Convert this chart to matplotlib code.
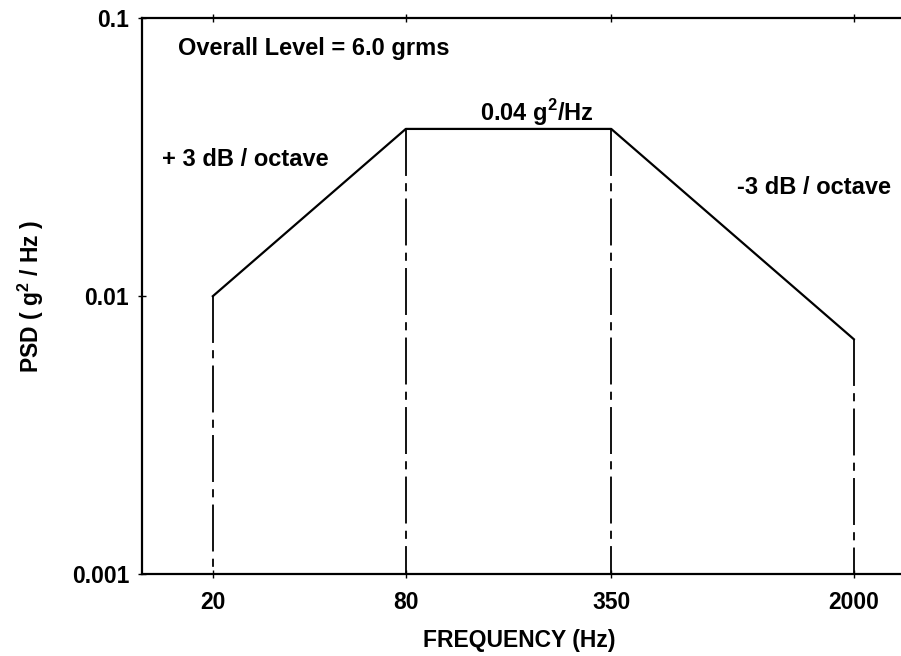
import matplotlib
matplotlib.use('Agg')
import matplotlib.pyplot as plt
from matplotlib.ticker import FixedLocator, FixedFormatter, NullLocator

plt.rcParams['font.family'] = 'Liberation Sans'
plt.rcParams['font.weight'] = 'bold'
plt.rcParams['mathtext.fontset'] = 'custom'
plt.rcParams['mathtext.rm'] = 'Liberation Sans:bold'
plt.rcParams['mathtext.bf'] = 'Liberation Sans:bold'

# breakpoints of the PSD profile
freq = [20, 80, 350, 2000]
psd = [0.01, 0.04, 0.04, 0.007]

x_ticks = [20, 80, 350, 2000]
x_labels = ['20', '80', '350', '2000']
y_ticks = [0.001, 0.01, 0.1]
y_labels = ['0.001', '0.01', '0.1']

fs = 16.5

fig = plt.figure(figsize=(9.01, 6.56), dpi=100)
# right side of the box runs off the picture
ax = fig.add_axes([0.1573, 0.125, 0.853, 0.847])
ax.set_xscale('log')
ax.set_yscale('log')
ax.set_xlim(12, 3000)
ax.set_ylim(0.001, 0.1)

ax.plot(freq, psd, color='black', lw=1.6)
for f, p in zip(freq, psd):
    ax.plot([f, f], [p, 0.001], color='black', lw=1.3,
            dashes=(26, 4, 4.5, 4))

ax.xaxis.set_major_locator(FixedLocator(x_ticks))
ax.xaxis.set_major_formatter(FixedFormatter(x_labels))
ax.xaxis.set_minor_locator(NullLocator())
ax.yaxis.set_major_locator(FixedLocator(y_ticks))
ax.yaxis.set_major_formatter(FixedFormatter(y_labels))
ax.yaxis.set_minor_locator(NullLocator())
ax.tick_params(axis='x', which='major', direction='inout', length=6, width=1,
               top=True, labelsize=fs, pad=9)
ax.tick_params(axis='y', which='major', direction='inout', length=6, width=1,
               right=False, labelsize=fs, pad=6)
for s in ax.spines.values():
    s.set_linewidth(1.6)
ax.spines['right'].set_visible(False)

fig.text(519 / 901, 1 - 640 / 656, 'FREQUENCY (Hz)', fontsize=fs,
         ha='center', va='center')
fig.text(31 / 901, 1 - 297 / 656, r'PSD ( g$^{2}$ / Hz )', fontsize=fs,
         ha='center', va='center', rotation=90)

ax.text(15.6, 0.078, 'Overall Level = 6.0 grms', fontsize=17, va='center', ha='left')
ax.text(205, 0.046, r'0.04 g$^{2}$/Hz', fontsize=17, va='center', ha='center')
ax.text(13.9, 0.031, '+ 3 dB / octave', fontsize=17, va='center', ha='left')
ax.text(862, 0.0247, '-3 dB / octave', fontsize=17, va='center', ha='left')

fig.savefig('out.png', dpi=100)
